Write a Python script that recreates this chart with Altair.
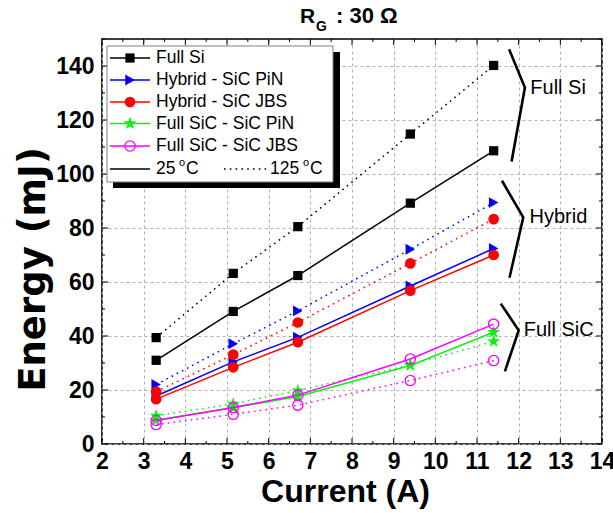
import altair as alt
import pandas as pd

# Switching energy versus load current, R_G = 30 ohm
current = [3.3, 5.15, 6.7, 9.4, 11.4]

full_si_25 = [31.0, 49.1, 62.4, 89.2, 108.6]
full_si_125 = [39.4, 63.2, 80.5, 114.8, 140.2]
hybrid_pin_25 = [17.8, 30.4, 39.5, 58.5, 72.4]
hybrid_pin_125 = [22.0, 37.1, 49.3, 72.1, 89.4]
hybrid_jbs_25 = [16.6, 28.4, 37.7, 56.8, 70.0]
hybrid_jbs_125 = [19.4, 33.1, 45.0, 66.9, 83.3]
sic_pin_25 = [8.8, 13.4, 17.6, 29.1, 41.4]
sic_pin_125 = [10.4, 14.9, 19.8, 29.3, 38.0]
sic_jbs_25 = [8.7, 13.5, 18.1, 31.5, 44.4]
sic_jbs_125 = [7.2, 11.0, 14.4, 23.5, 30.9]

# five-pointed star as a unit-square symbol path
STAR = ("M0,-1L0.225,-0.309L0.951,-0.309L0.363,0.118L0.588,0.809L0,0.382"
        "L-0.588,0.809L-0.363,0.118L-0.951,-0.309L-0.225,-0.309Z")

series_names = ["Full Si", "Hybrid - SiC PiN", "Hybrid - SiC JBS",
                "Full SiC - SiC PiN", "Full SiC - SiC JBS"]
series_25 = [full_si_25, hybrid_pin_25, hybrid_jbs_25, sic_pin_25, sic_jbs_25]
series_125 = [full_si_125, hybrid_pin_125, hybrid_jbs_125, sic_pin_125, sic_jbs_125]
series_colors = ["#000000", "#0000FF", "#FF0000", "#11EE11", "#FF00FF"]
series_shapes = ["square", "triangle-right", "circle", STAR, "circle"]
series_filled = [True, True, True, True, False]
series_sizes = [85, 120, 115, 190, 105]

# group brackets on the right-hand side (data coordinates)
bracket_names = ["Full Si", "Hybrid", "Full SiC"]
bracket_x = [[11.77, 12.15, 11.83], [11.60, 12.11, 11.78], [11.57, 12.00, 11.67]]
bracket_y = [[146.2, 132.0, 104.6], [97.5, 83.9, 61.6], [52.0, 42.1, 26.9]]
bracket_label_x = [12.28, 12.26, 12.12]
bracket_label_y = [132.0, 83.9, 42.1]

x_major = list(range(2, 15))
x_minor = [2.5 + i for i in range(12)]
y_major = list(range(0, 141, 20))
y_minor = list(range(10, 151, 20))

W, H = 500, 405
FONT = "Liberation Sans"
DOTS = [1.6, 4.2]

xs = alt.Scale(domain=[2, 14], nice=False, zero=False)
ys = alt.Scale(domain=[0, 150], nice=False, zero=True)
X = alt.X("current:Q", scale=xs)
Y = alt.Y("energy:Q", scale=ys)

# labelled axes with dashed grid (drawn by an invisible layer)
grid_df = pd.DataFrame({"current": [2, 14], "energy": [0, 150]})
axis_main = alt.Chart(grid_df).mark_point(opacity=0).encode(
    x=alt.X("current:Q", scale=xs, axis=alt.Axis(
        values=x_major, ticks=False, domain=False,
        grid=True, gridColor="#b0b0b0", gridDash=[3, 3], gridWidth=1,
        labelFont=FONT, labelFontWeight="bold", labelFontSize=23,
        labelColor="black", labelPadding=6, labelFlush=False,
        labelOverlap=False,
        title="Current (A)", titleFont=FONT, titleFontWeight="bold",
        titleFontSize=32, titleColor="black", titlePadding=3,
        titleX=W / 2 - 7)),
    y=alt.Y("energy:Q", scale=ys, axis=alt.Axis(
        values=y_major, ticks=False, domain=False,
        grid=True, gridColor="#b0b0b0", gridDash=[3, 3], gridWidth=1,
        labelFont=FONT, labelFontWeight="bold", labelFontSize=23,
        labelColor="black", labelPadding=8, labelFlush=False,
        labelOverlap=False,
        title="Energy (mJ)", titleFont="DejaVu Sans", titleFontWeight="bold",
        titleFontSize=37, titleColor="black", titleAngle=270,
        titleAlign="center", titleBaseline="alphabetic",
        titleX=-58, titleY=230)),
)


# inward tick marks on all four edges
def xticks(vals, length):
    d = pd.DataFrame({"current": vals})
    bot = alt.Chart(d).mark_rule(color="black", strokeWidth=1).encode(
        x=X, y=alt.value(H), y2=alt.value(H - length))
    top = alt.Chart(d).mark_rule(color="black", strokeWidth=1).encode(
        x=X, y=alt.value(0), y2=alt.value(length))
    return [bot, top]


def yticks(vals, length):
    d = pd.DataFrame({"energy": vals})
    lef = alt.Chart(d).mark_rule(color="black", strokeWidth=1).encode(
        y=Y, x=alt.value(0), x2=alt.value(length))
    rig = alt.Chart(d).mark_rule(color="black", strokeWidth=1).encode(
        y=Y, x=alt.value(W), x2=alt.value(W - length))
    return [lef, rig]


tick_layers = (xticks(x_major, 6) + xticks(x_minor, 3)
               + yticks(y_major, 6) + yticks(y_minor, 3))

data_layers = []
for name, col, shp, fil, sz, v25, v125 in zip(
        series_names, series_colors, series_shapes, series_filled,
        series_sizes, series_25, series_125):
    d25 = pd.DataFrame({"current": current, "energy": v25})
    d125 = pd.DataFrame({"current": current, "energy": v125})
    data_layers.append(alt.Chart(d25).mark_line(color=col, strokeWidth=1.5)
                       .encode(x=X, y=Y))
    data_layers.append(alt.Chart(d125).mark_line(color=col, strokeWidth=1.5,
                                                 strokeDash=DOTS)
                       .encode(x=X, y=Y))
    for d in (d25, d125):
        data_layers.append(alt.Chart(d).mark_point(
            shape=shp, filled=fil, size=sz, color=col, opacity=1,
            strokeWidth=1.3).encode(x=X, y=Y))

# brackets grouping the device families
brows = []
for i, (bx, by) in enumerate(zip(bracket_x, bracket_y)):
    for k, (a, b) in enumerate(zip(bx, by)):
        brows.append({"group": bracket_names[i], "k": k, "current": a, "energy": b})
bdf = pd.DataFrame(brows)
brackets = alt.Chart(bdf).mark_line(color="black", strokeWidth=2.6).encode(
    x=X, y=Y, detail="group:N", order="k:Q")
bl_df = pd.DataFrame({"label": bracket_names, "current": bracket_label_x,
                      "energy": bracket_label_y})
bracket_labels = alt.Chart(bl_df).mark_text(
    align="left", baseline="middle", font=FONT, fontSize=20, color="black"
).encode(x=X, y=Y, text="label:N")

# legend box with drop shadow
one = pd.DataFrame({"a": [0]})
shadow = alt.Chart(one).mark_rect(color="black").encode(
    x=alt.value(11), x2=alt.value(238), y=alt.value(13), y2=alt.value(149))
box = alt.Chart(one).mark_rect(fill="white", stroke="#808080", strokeWidth=1).encode(
    x=alt.value(5), x2=alt.value(231), y=alt.value(7), y2=alt.value(143))


def txt(s, x, y, size, weight="normal", baseline="middle", align="left"):
    return alt.Chart(pd.DataFrame({"t": [s]})).mark_text(
        align=align, baseline=baseline, font=FONT, fontSize=size,
        fontWeight=weight, color="black").encode(
        x=alt.value(x), y=alt.value(y), text="t:N")


legend_rows_y = [19, 41, 63, 84.5, 107]
legend_layers = [shadow, box]
for name, col, shp, fil, sz, ry in zip(series_names, series_colors, series_shapes,
                                       series_filled, series_sizes, legend_rows_y):
    legend_layers.append(alt.Chart(one).mark_rule(color=col, strokeWidth=1.5).encode(
        x=alt.value(8), x2=alt.value(48), y=alt.value(ry)))
    legend_layers.append(alt.Chart(one).mark_point(
        shape=shp, filled=fil, size=sz, color=col, opacity=1, strokeWidth=1.3
    ).encode(x=alt.value(28), y=alt.value(ry)))
    legend_layers.append(txt(name, 54, ry, 17.5))

ty = 130
legend_layers.append(alt.Chart(one).mark_rule(color="black", strokeWidth=1.5).encode(
    x=alt.value(8), x2=alt.value(48), y=alt.value(ty)))
legend_layers.append(alt.Chart(one).mark_rule(
    color="black", strokeWidth=1.5, strokeDash=DOTS).encode(
    x=alt.value(122), x2=alt.value(165), y=alt.value(ty)))
legend_layers += [
    txt("25", 54, ty, 17.5), txt("o", 77, ty - 6, 11), txt("C", 84, ty, 17.5),
    txt("125", 168, ty, 17.5), txt("o", 201, ty - 6, 11), txt("C", 208, ty, 17.5),
]

# chart title: R_G : 30 Ω
title_layers = [
    txt("R", 198, -16, 21, "bold", "alphabetic"),
    txt("G", 214, -8, 14, "bold", "alphabetic"),
    txt(": 30 Ω", 234, -16, 22, "bold", "alphabetic"),
]

chart = alt.layer(
    axis_main, *tick_layers, *data_layers, brackets, bracket_labels,
    *legend_layers, *title_layers,
).properties(
    width=W, height=H,
    autosize=alt.AutoSizeParams(type="none"),
    padding={"left": 102, "top": 39, "right": 11, "bottom": 69},
    background="white",
).configure_view(stroke="black", strokeWidth=1.6)

chart.save("out.html", embed_options={"renderer": "svg", "actions": False})
